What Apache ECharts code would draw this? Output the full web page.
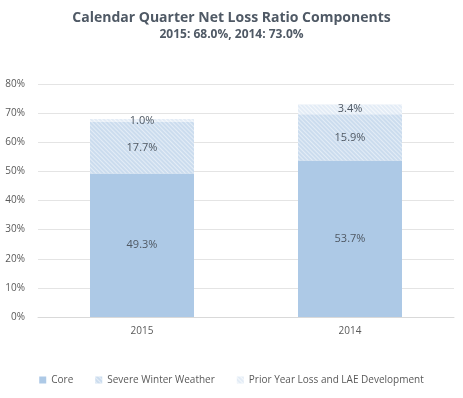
<!DOCTYPE html>
<html>
<head>
<meta charset="utf-8">
<script src="https://cdn.jsdelivr.net/npm/echarts@6/dist/echarts.min.js"></script>
<style>
  html, body { margin: 0; padding: 0; background: #fff; }
  #chart { width: 463px; height: 398px; }
</style>
</head>
<body>
<div id="chart"></div>
<script>
const years = ["2015", "2014"];
const core = [49.3, 53.7];
const severeWinter = [17.7, 15.9];
const priorYear = [1.0, 3.4];
const seriesNames = ["Core", "Severe Winter Weather", "Prior Year Loss and LAE Development"];

const font = "Open Sans";
const hatch = (color) => ({
  symbol: "rect",
  color: color,
  dashArrayX: [1, 0],
  dashArrayY: [1, 2],
  rotation: Math.PI / 4
});

let chart = echarts.init(document.getElementById("chart"));

const label = {
  show: true,
  position: "inside",
  color: "#4f5863",
  fontSize: 11,
  fontFamily: font,
  formatter: (p) => p.value.toFixed(1) + "%"
};

chart.setOption({
  animation: false,
  aria: { enabled: true, decal: { show: true } },
  title: {
    text: "Calendar Quarter Net Loss Ratio Components",
    subtext: "2015: 68.0%, 2014: 73.0%",
    left: "center",
    top: 6,
    itemGap: 4,
    textStyle: { fontFamily: font, fontSize: 14, fontWeight: "bold", color: "#4f5965" },
    subtextStyle: { fontFamily: font, fontSize: 12, fontWeight: "bold", color: "#4f5965" }
  },
  legend: {
    bottom: 8,
    left: "center",
    itemWidth: 7,
    itemHeight: 7,
    itemGap: 22,
    icon: "rect",
    textStyle: { fontFamily: font, fontSize: 10, color: "#595959" },
    data: seriesNames
  },
  grid: { left: 38, right: 9, top: 84, bottom: 81 },
  xAxis: {
    type: "category",
    data: years,
    axisTick: { show: false },
    axisLine: { lineStyle: { color: "#d9d9d9" } },
    axisLabel: { fontFamily: font, fontSize: 10, color: "#595959", margin: 9 }
  },
  yAxis: {
    type: "value",
    min: 0,
    max: 80,
    interval: 10,
    axisLabel: { fontFamily: font, fontSize: 10, color: "#595959", formatter: "{value}%", margin: 13 },
    splitLine: { lineStyle: { color: "#e4e4e4" } }
  },
  series: [
    {
      name: seriesNames[0],
      type: "bar",
      stack: "total",
      barWidth: "50%",
      data: core,
      label: label,
      itemStyle: { color: "#adc9e6", decal: { symbol: "none" } }
    },
    {
      name: seriesNames[1],
      type: "bar",
      stack: "total",
      data: severeWinter,
      label: label,
      itemStyle: { color: "#cbdcee", decal: hatch("rgba(255,255,255,0.6)") }
    },
    {
      name: seriesNames[2],
      type: "bar",
      stack: "total",
      data: priorYear,
      label: label,
      itemStyle: { color: "#e3ecf6", decal: hatch("rgba(255,255,255,0.65)") }
    }
  ]
});
</script>
</body>
</html>
